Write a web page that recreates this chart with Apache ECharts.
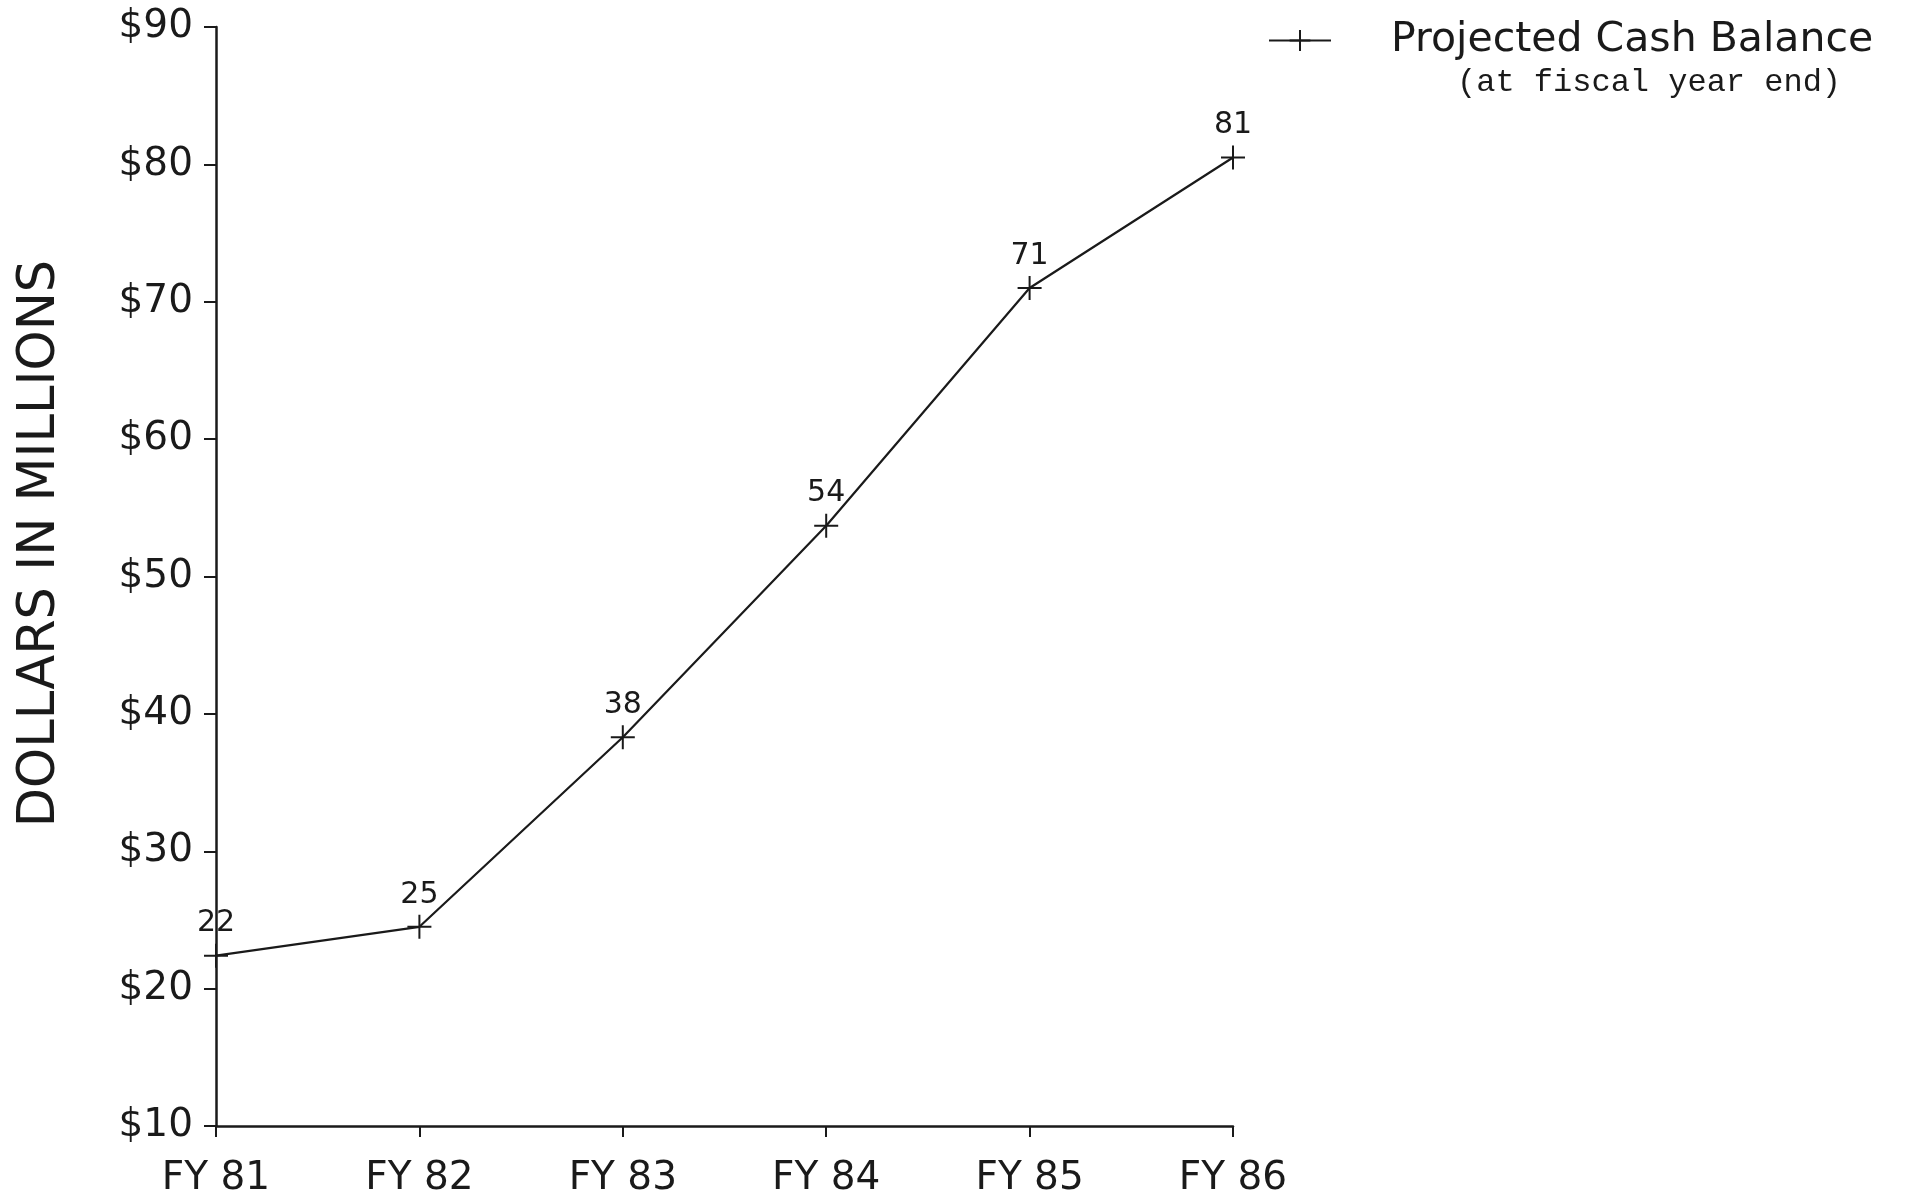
<!DOCTYPE html>
<html>
<head>
<meta charset="utf-8">
<script src="https://cdn.jsdelivr.net/npm/echarts@6/dist/echarts.min.js"></script>
<style>
html,body{margin:0;padding:0;background:#fff;}
#chart{width:1905px;height:1198px;}
</style>
</head>
<body>
<div id="chart"></div>
<script>
var categories = ['FY 81', 'FY 82', 'FY 83', 'FY 84', 'FY 85', 'FY 86'];
var cashBalance = [22.4, 24.5, 38.3, 53.7, 71.0, 80.5];
var pointLabels = ['22', '25', '38', '54', '71', '81'];
var yTicks = [10, 20, 30, 40, 50, 60, 70, 80, 90];
var seriesName = 'Projected Cash Balance';
var subtitle = '(at fiscal year end)';
var yAxisName = 'DOLLARS IN MILLIONS';

var ink = '#1a1a1a';
var plusPath = 'path://M10,0 L10,20 M0,10 L20,10';

var chart = echarts.init(document.getElementById('chart'));
chart.setOption({
  backgroundColor: '#ffffff',
  animation: false,
  textStyle: { fontFamily: 'DejaVu Sans', color: ink },
  title: {
    text: subtitle,
    left: 1457,
    top: 67,
    padding: 0,
    textStyle: { fontFamily: 'Liberation Mono', fontSize: 32, fontWeight: 'normal', color: ink }
  },
  legend: {
    left: 1268,
    top: 20,
    padding: 0,
    itemWidth: 62,
    itemHeight: 26,
    data: [seriesName],
    textStyle: { fontFamily: 'DejaVu Sans', fontSize: 41, color: ink, padding: [0, 0, 0, 55] }
  },
  grid: { left: 216, right: 672, top: 27, bottom: 72, containLabel: false },
  xAxis: {
    type: 'category',
    data: categories,
    boundaryGap: false,
    axisLine: { lineStyle: { color: ink, width: 2.5 } },
    axisTick: { show: true, length: 11, lineStyle: { color: ink, width: 2 } },
    axisLabel: { fontFamily: 'DejaVu Sans', fontSize: 39, color: ink, margin: 33 }
  },
  yAxis: {
    type: 'value',
    min: yTicks[0],
    max: yTicks[yTicks.length - 1],
    interval: 10,
    name: yAxisName,
    nameLocation: 'middle',
    nameRotate: 90,
    nameGap: 150,
    nameTextStyle: { fontFamily: 'DejaVu Sans', fontSize: 51, color: ink, padding: [0, 0, 0, 66] },
    splitLine: { show: false },
    axisLine: { show: true, lineStyle: { color: ink, width: 2.5 } },
    axisTick: { show: true, length: 12, lineStyle: { color: ink, width: 2 } },
    axisLabel: {
      fontFamily: 'DejaVu Sans', fontSize: 39, color: ink, margin: 23,
      formatter: function (v) { return '$' + v; }
    }
  },
  series: [{
    name: seriesName,
    type: 'line',
    data: cashBalance,
    symbol: plusPath,
    symbolSize: 24,
    showAllSymbol: true,
    lineStyle: { color: ink, width: 2.2 },
    itemStyle: { color: ink, borderColor: ink, borderWidth: 2 },
    label: {
      show: true,
      position: 'top',
      distance: 4,
      fontFamily: 'DejaVu Sans',
      fontSize: 30,
      color: ink,
      formatter: function (p) { return pointLabels[p.dataIndex]; }
    }
  }]
});
</script>
</body>
</html>
